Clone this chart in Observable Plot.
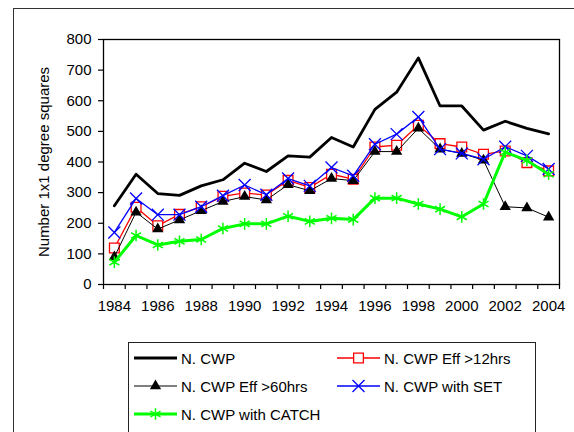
<!DOCTYPE html>
<html>
<head>
<meta charset="utf-8">
<script src="https://cdn.jsdelivr.net/npm/d3@7"></script>
<script src="https://cdn.jsdelivr.net/npm/@observablehq/plot@0.6"></script>
<style>
  body { margin: 0; background: #fff; font-family: "Liberation Sans", Arial, sans-serif; }
  #wrap { position: relative; width: 574px; height: 432px; overflow: hidden; }
  #outer { position: absolute; left: 13px; top: 8px; width: 620px; height: 500px; border: 1px solid #333; }
  #chart { position: absolute; left: 0; top: 0; }
  #legend { position: absolute; left: 128px; top: 342px; width: 406px; height: 120px; border: 1px solid #222; background: #fff; }
  .item { position: absolute; display: flex; align-items: center; font-size: 15px; color: #000; height: 20px; }
  .item svg { margin-right: 4px; }
</style>
</head>
<body>
<div id="wrap">
  <div id="outer"></div>
  <div id="chart"></div>
  <div id="legend"></div>
</div>
<script>
const years = d3.range(1984, 2005)
const yTicks = [0, 100, 200, 300, 400, 500, 600, 700, 800]
const xLabels = d3.range(1984, 2005, 2)

const cwp    = [257, 360, 297, 291, 322, 342, 396, 369, 420, 416, 480, 449, 572, 628, 740, 583, 583, 504, 533, 510, 492]
const eff12  = [119, 252, 192, 229, 254, 288, 299, 292, 340, 317, 360, 344, 449, 455, 520, 460, 449, 425, 436, 398, 371]
const eff60  = [90, 236, 181, 211, 241, 271, 287, 276, 326, 306, 346, 339, 434, 434, 510, 442, 428, 406, 254, 250, 220]
const withSet   = [170, 281, 228, 228, 254, 290, 325, 293, 346, 322, 382, 355, 458, 491, 547, 442, 428, 409, 450, 420, 377]
const withCatch = [73, 160, 129, 141, 147, 183, 198, 198, 223, 206, 216, 212, 282, 282, 263, 246, 221, 263, 432, 405, 360]

const series = [
  {name: "N. CWP", values: cwp, stroke: "#000", width: 2.8, symbol: null},
  {name: "N. CWP Eff  >12hrs", values: eff12, stroke: "#ff0000", width: 1.3, symbol: "square", fill: "#fff", r: 5.5, sw: 1.3},
  {name: "N. CWP Eff  >60hrs", values: eff60, stroke: "#000", width: 1, symbol: "triangle", fill: "#000", r: 4.2, sw: 0},
  {name: "N. CWP with SET", values: withSet, stroke: "#0000ff", width: 1.3, symbol: "times", fill: "none", r: 5.5, sw: 1.3},
  {name: "N. CWP with CATCH", values: withCatch, stroke: "#00ff00", width: 3, symbol: "asterisk", fill: "none", r: 5.5, sw: 1.5}
]

const rows = s => years.map((yr, i) => ({year: yr, value: s.values[i]}))

const marks = []
for (const s of series) {
  marks.push(Plot.line(rows(s), {x: "year", y: "value", stroke: s.stroke, strokeWidth: s.width}))
  if (s.symbol) {
    marks.push(Plot.dot(rows(s), {x: "year", y: "value", symbol: s.symbol, r: s.r,
      fill: s.fill, stroke: s.sw ? s.stroke : "none", strokeWidth: s.sw}))
  }
}

const chart = Plot.plot({
  width: 574,
  height: 335,
  marginTop: 39,
  marginLeft: 103,
  marginRight: 15,
  marginBottom: 51,
  x: {domain: [1983.5, 2004.5], label: null},
  y: {domain: [0, 800]},
  style: {fontFamily: "'Liberation Sans', Arial, sans-serif", fontSize: "15px", color: "#000", background: "transparent", overflow: "visible"},
  marks: [
    Plot.axisX({ticks: d3.range(1983.5, 2005, 1), tickSize: 5, tickFormat: () => "", label: null, strokeWidth: 1.2}),
    Plot.axisX({ticks: xLabels, tickSize: 0, tickPadding: 16, tickFormat: d => String(d), label: null, fontSize: 15}),
    Plot.axisY({ticks: yTicks, tickSize: 5, tickPadding: 7, tickFormat: d => String(d), strokeWidth: 1.2,
      label: "Number 1x1 degree squares", labelAnchor: "center", labelArrow: "none", labelOffset: 65, fontSize: 15}),
    ...marks,
    Plot.frame({stroke: "#000", strokeWidth: 1.3})
  ]
})
document.getElementById("chart").append(chart)

// legend (Excel style, two columns)
const legend = d3.select("#legend")
const slots = [[5, 0], [208, 0], [5, 1], [208, 1], [5, 2]]
series.forEach((s, i) => {
  const [lx, row] = slots[i]
  const item = legend.append("div").attr("class", "item")
    .style("left", lx + "px").style("top", (5 + row * 28) + "px")
  const svg = item.append("svg").attr("width", 43).attr("height", 14)
  svg.append("line").attr("x1", 0).attr("x2", 43).attr("y1", 7).attr("y2", 7)
    .attr("stroke", s.stroke).attr("stroke-width", s.width)
  if (s.symbol) {
    const symType = {square: d3.symbolSquare, triangle: d3.symbolTriangle, times: d3.symbolTimes, asterisk: d3.symbolAsterisk}[s.symbol]
    svg.append("path").attr("transform", "translate(21.5,7)")
      .attr("d", d3.symbol(symType, s.r * s.r * Math.PI)())
      .attr("fill", s.fill).attr("stroke", s.sw ? s.stroke : "none").attr("stroke-width", s.sw)
  }
  item.append("span").text(s.name)
})
</script>
</body>
</html>
